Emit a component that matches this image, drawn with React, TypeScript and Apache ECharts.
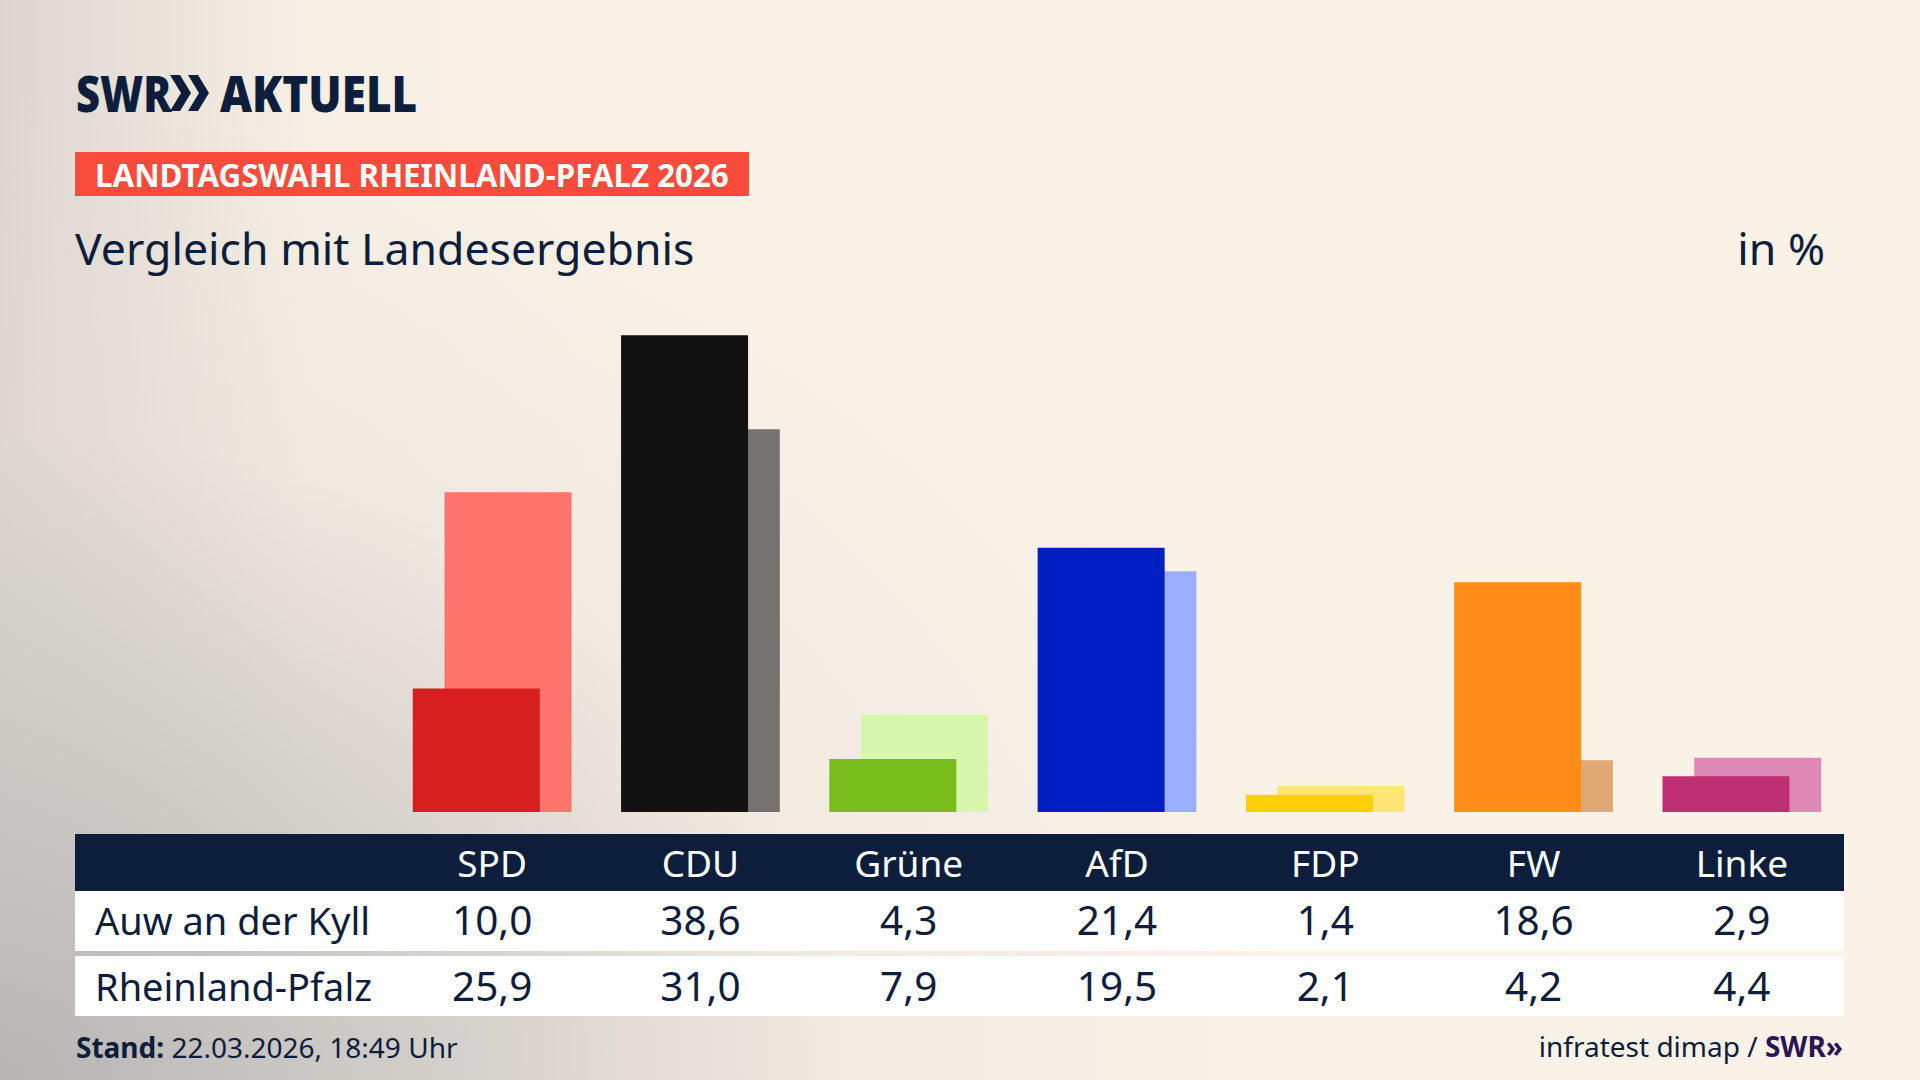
import React, { useEffect, useRef } from "react";
import * as echarts from "echarts";

const parties = ["SPD", "CDU", "Grüne", "AfD", "FDP", "FW", "Linke"];
const auwValues = [10.0, 38.6, 4.3, 21.4, 1.4, 18.6, 2.9];
const rlpValues = [25.9, 31.0, 7.9, 19.5, 2.1, 4.2, 4.4];
const darkColors = ["#D71F1F", "#121212", "#79BD1C", "#001FC3", "#FFD00A", "#FF8D17", "#BE2F74"];
const lightColors = ["#FF756D", "#74716F", "#D8F7AC", "#9CAEFF", "#FFE476", "#DFA874", "#DE89B5"];
const rowLabels = ["Auw an der Kyll", "Rheinland-Pfalz"];

const NAVY = "#0C1E3C";
const FONT = "'Noto Sans', sans-serif";

const fmt = (v: number) => v.toFixed(1).replace(".", ",");

export default function App() {
  const ref = useRef<HTMLDivElement>(null);
  useEffect(() => {
    document.body.style.margin = "0";
    const chart = echarts.init(ref.current!, undefined, { renderer: "svg" });
    const chev = (x0: number) => ({
      type: "polygon",
      z: 5,
      shape: {
        points: [
          [x0, 75],
          [x0 + 10, 75],
          [x0 + 21, 93],
          [x0 + 10, 111],
          [x0, 111],
          [x0 + 11, 93],
        ],
      },
      style: { fill: NAVY },
    });
    const axisBase = {
      type: "category",
      data: parties,
      position: "bottom",
      axisLine: { show: false },
      axisTick: { show: false },
      splitLine: { show: false },
      z: 5,
    };
    chart.setOption({
      animation: false,
      backgroundColor: "transparent",
      grid: { left: 388, right: 74, top: 318, bottom: 268, containLabel: false, outerBoundsMode: "none" },
      xAxis: [
        {
          ...axisBase,
          axisLabel: { interval: 0, margin: 50, verticalAlign: "middle", color: "#FFFFFF", fontSize: 37, fontFamily: FONT },
        },
        {
          ...axisBase,
          axisLabel: {
            interval: 0,
            margin: 107,
            verticalAlign: "middle",
            color: NAVY,
            fontSize: 40.5,
            fontFamily: FONT,
            formatter: (_v: string, i: number) => fmt(auwValues[i]),
          },
        },
        {
          ...axisBase,
          axisLabel: {
            interval: 0,
            margin: 173,
            verticalAlign: "middle",
            color: NAVY,
            fontSize: 40.5,
            fontFamily: FONT,
            formatter: (_v: string, i: number) => fmt(rlpValues[i]),
          },
        },
      ],
      yAxis: { type: "value", min: 0, max: 40, show: false, splitLine: { show: false } },
      series: [
        {
          name: rowLabels[0],
          type: "bar",
          xAxisIndex: 0,
          z: 3,
          barWidth: 127,
          barGap: "-75%",
          data: auwValues.map((v, i) => ({ value: v, itemStyle: { color: darkColors[i] } })),
        },
        {
          name: rowLabels[1],
          type: "bar",
          xAxisIndex: 0,
          z: 2,
          barWidth: 127,
          barGap: "-75%",
          data: rlpValues.map((v, i) => ({ value: v, itemStyle: { color: lightColors[i] } })),
        },
      ],
      graphic: [
        // logo
        {
          type: "text",
          x: 76,
          y: 93,
          scaleX: 0.85,
          z: 5,
          style: { text: "SWR", fontFamily: FONT, fontWeight: 900, fontSize: 49, fill: NAVY, align: "left", verticalAlign: "middle" },
        },
        chev(170),
        chev(188),
        {
          type: "text",
          x: 220,
          y: 93,
          scaleX: 0.9,
          z: 5,
          style: { text: "AKTUELL", fontFamily: FONT, fontWeight: 900, fontSize: 49, fill: NAVY, align: "left", verticalAlign: "middle" },
        },
        // badge
        { type: "rect", z: 0, shape: { x: 75, y: 152, width: 674, height: 44 }, style: { fill: "#FB4B3C" } },
        {
          type: "text",
          x: 95,
          y: 175,
          z: 5,
          style: {
            text: "LANDTAGSWAHL RHEINLAND-PFALZ 2026",
            fontFamily: FONT,
            fontWeight: "bold",
            fontSize: 31.3,
            fill: "#FFFFFF",
            align: "left",
            verticalAlign: "middle",
          },
        },
        // subtitle
        {
          type: "text",
          x: 75,
          y: 247,
          z: 5,
          style: { text: "Vergleich mit Landesergebnis", fontFamily: FONT, fontSize: 44.6, fill: NAVY, align: "left", verticalAlign: "middle" },
        },
        {
          type: "text",
          x: 1825,
          y: 247,
          z: 5,
          style: { text: "in %", fontFamily: FONT, fontSize: 44.6, fill: NAVY, align: "right", verticalAlign: "middle" },
        },
        // table
        { type: "rect", z: 0, shape: { x: 75, y: 834, width: 1769, height: 57 }, style: { fill: NAVY } },
        { type: "rect", z: 0, shape: { x: 75, y: 891, width: 1769, height: 60 }, style: { fill: "#FFFFFF" } },
        { type: "rect", z: 0, shape: { x: 75, y: 956, width: 1769, height: 60 }, style: { fill: "#FFFFFF" } },
        {
          type: "text",
          x: 95,
          y: 920,
          z: 5,
          style: { text: rowLabels[0], fontFamily: FONT, fontSize: 38, fill: NAVY, align: "left", verticalAlign: "middle" },
        },
        {
          type: "text",
          x: 95,
          y: 986,
          z: 5,
          style: { text: rowLabels[1], fontFamily: FONT, fontSize: 38, fill: NAVY, align: "left", verticalAlign: "middle" },
        },
        // footer
        {
          type: "text",
          x: 76,
          y: 1047,
          z: 5,
          style: {
            text: "{b|Stand:}{r| 22.03.2026, 18:49 Uhr}",
            align: "left",
            verticalAlign: "middle",
            rich: {
              b: { fontFamily: FONT, fontWeight: "bold", fontSize: 28, fill: NAVY },
              r: { fontFamily: FONT, fontSize: 28, fill: NAVY },
            },
          },
        },
        {
          type: "text",
          x: 1843,
          y: 1046,
          z: 5,
          style: {
            text: "{r|infratest dimap / }{s|SWR»}",
            align: "right",
            verticalAlign: "middle",
            rich: {
              r: { fontFamily: FONT, fontSize: 28, fill: NAVY },
              s: { fontFamily: FONT, fontWeight: "bold", fontSize: 28, fill: "#2A1454" },
            },
          },
        },
      ],
    });
    return () => chart.dispose();
  }, []);
  return (
    <div
      ref={ref}
      style={{
        position: "fixed",
        left: 0,
        top: 0,
        width: 1920,
        height: 1080,
        background:
          "radial-gradient(ellipse 1300px 1000px at 0px 1080px, rgba(184,182,181,1) 0%, rgba(200,197,194,0.75) 35%, rgba(225,220,213,0.35) 65%, rgba(250,242,231,0) 100%), linear-gradient(90deg, rgba(210,205,199,0.75) 0%, rgba(240,233,224,0.3) 16%, rgba(250,242,231,0) 32%), #FAF2E7",
      }}
    />
  );
}
